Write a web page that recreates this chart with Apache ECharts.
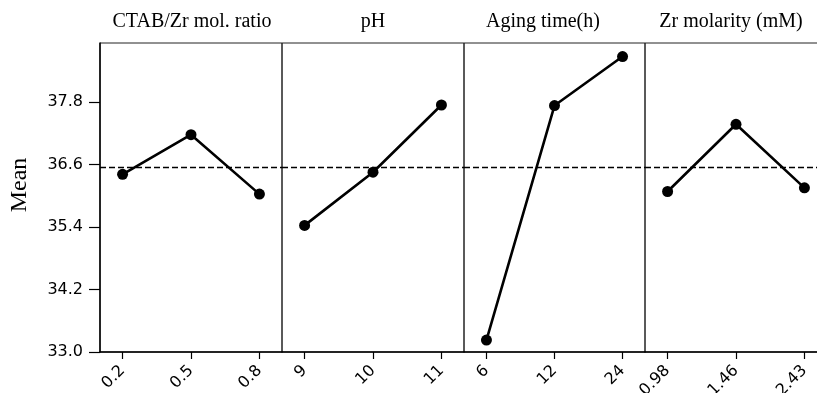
<!DOCTYPE html>
<html><head><meta charset="utf-8">
<script src="https://cdn.jsdelivr.net/npm/echarts@6/dist/echarts.min.js"></script>
<style>html,body{margin:0;padding:0;background:#fff;overflow:hidden}#c{width:817px;height:393px}</style>
</head><body><div id="c"></div>
<script>
// ---- data ----
const factorTitles = ['CTAB/Zr mol. ratio', 'pH', 'Aging time(h)', 'Zr molarity (mM)'];
const levelsCTAB = ['0.2', '0.5', '0.8'];
const levelsPH = ['9', '10', '11'];
const levelsAging = ['6', '12', '24'];
const levelsZr = ['0.98', '1.46', '2.43'];
const meansCTAB = [36.41, 37.17, 36.03];
const meansPH = [35.43, 36.45, 37.74];
const meansAging = [33.23, 37.73, 38.67];
const meansZr = [36.08, 37.37, 36.15];
const grandMean = 36.54;
const yTickValues = [33.0, 34.2, 35.4, 36.6, 37.8];
const yAxisTitle = 'Mean';

// ---- layout ----
const levels = [levelsCTAB, levelsPH, levelsAging, levelsZr];
const means = [meansCTAB, meansPH, meansAging, meansZr];
const panelLeft = [100, 282, 464, 645];
const panelWidth = [182, 182, 181, 182];
const titleX = [192, 373, 543, 731];
const yMin = 33.0, yMax = 38.93;

const grids = [], xAxes = [], yAxes = [], series = [], graphics = [];
for (let i = 0; i < 4; i++) {
  grids.push({ left: panelLeft[i], top: 43, width: panelWidth[i], height: 309,
    containLabel: false, outerBoundsMode: 'none',
    show: true, borderColor: '#222', borderWidth: 1, backgroundColor: 'transparent' });
  const lv = levels[i];
  xAxes.push({
    type: 'value', gridIndex: i, min: -0.33, max: 2.33,
    axisLine: { show: true, onZero: false, lineStyle: { color: '#000', width: 1.5 } },
    axisTick: { show: true, length: 7, customValues: [0, 1, 2], lineStyle: { color: '#000', width: 1.2 } },
    axisLabel: { show: true, customValues: [0, 1, 2], rotate: 45, margin: 16,
      fontFamily: 'DejaVu Sans', fontSize: 16, color: '#000',
      formatter: v => lv[Math.round(v)] },
    splitLine: { show: false }
  });
  yAxes.push({
    type: 'value', gridIndex: i, min: yMin, max: yMax,
    axisLine: { show: i === 0, onZero: false, lineStyle: { color: '#000', width: 1.5 } },
    axisTick: { show: i === 0, length: 11, customValues: yTickValues, lineStyle: { color: '#000', width: 1.2 } },
    axisLabel: { show: i === 0, customValues: yTickValues, margin: 17,
      fontFamily: 'DejaVu Sans', fontSize: 16, color: '#000',
      formatter: v => v.toFixed(1) },
    splitLine: { show: false }
  });
  series.push({
    type: 'line', xAxisIndex: i, yAxisIndex: i,
    data: means[i].map((v, k) => [k, v]),
    symbol: 'circle', symbolSize: 11,
    lineStyle: { color: '#000', width: 2.6 },
    itemStyle: { color: '#000' },
    markLine: { silent: true, symbol: 'none', label: { show: false },
      lineStyle: { color: '#000', width: 1.4, type: [6, 3] },
      data: [{ yAxis: grandMean }] },
    z: 3
  });
  graphics.push({ type: 'text', x: titleX[i], y: 22,
    style: { text: factorTitles[i], fontFamily: 'Liberation Serif', fontSize: 20,
      fill: '#000', textAlign: 'center', textVerticalAlign: 'middle' } });
}
graphics.push({ type: 'text', x: 20, y: 185, rotation: Math.PI / 2,
  style: { text: yAxisTitle, fontFamily: 'Liberation Serif', fontSize: 24,
    fill: '#000', textAlign: 'center', textVerticalAlign: 'middle' } });

const chart = echarts.init(document.getElementById('c'), null, { renderer: 'canvas' });
chart.setOption({
  animation: false,
  backgroundColor: '#fff',
  grid: grids, xAxis: xAxes, yAxis: yAxes, series: series, graphic: graphics
});
</script>
</body></html>
